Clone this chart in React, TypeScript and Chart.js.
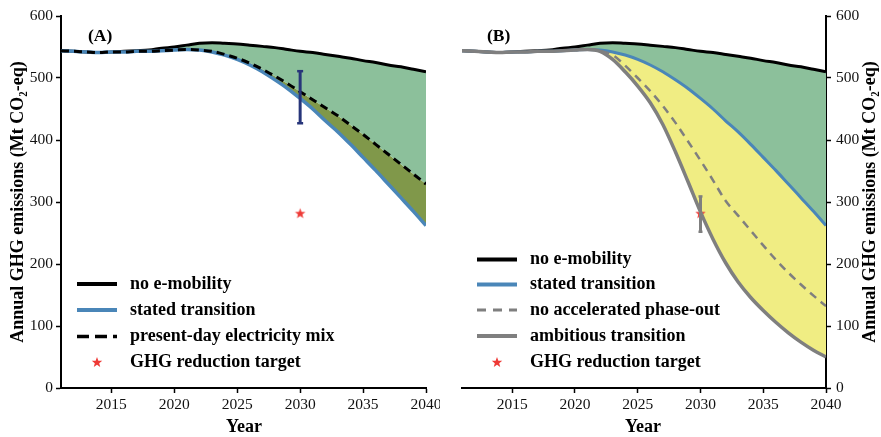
import React, { useEffect, useRef } from 'react';
import { Chart, registerables } from 'chart.js';

Chart.register(...registerables);

// ---------- data ----------
const years = [
  2011, 2012, 2013, 2014, 2015, 2016, 2017, 2018, 2019, 2020,
  2021, 2022, 2023, 2024, 2025, 2026, 2027, 2028, 2029, 2030,
  2031, 2032, 2033, 2034, 2035, 2036, 2037, 2038, 2039, 2040,
];
const noEMobility = [
  544, 543, 542, 541, 542, 543, 544, 545, 548, 550,
  553, 556, 557, 556, 555, 553, 551, 549, 546, 543,
  541, 538, 535, 532, 528, 525, 521, 518, 514, 510,
];
const statedTransition = [
  544, 543, 542, 541, 542, 542, 543, 543, 544, 545,
  546, 545, 542, 537, 530, 521, 510, 497, 483, 467,
  450, 431, 413, 393, 372, 351, 329, 307, 285, 262,
];
const presentDayMix = [
  544, 543, 542, 541, 542, 542, 543, 543, 544, 545,
  546, 545, 543, 538, 532, 524, 514, 503, 491, 478,
  465, 452, 439, 424, 409, 393, 377, 361, 345, 329,
];
const noAcceleratedPhaseOut = [
  544, 543, 542, 541, 542, 542, 543, 543, 544, 545,
  546, 544, 537, 520, 500, 479, 455, 428, 398, 367,
  335, 302, 278, 254, 230, 207, 186, 167, 149, 132,
];
const ambitiousTransition = [
  544, 543, 542, 541, 542, 542, 543, 543, 544, 545,
  546, 543, 530, 510, 487, 460, 425, 381, 333, 284,
  240, 202, 171, 146, 125, 106, 89, 74, 61, 50,
];
const xTickValues = [2015, 2020, 2025, 2030, 2035, 2040];
const targetYear = 2030;
const reductionTarget = 282;
const errorBarA = [427, 511];
const errorBarB = [252, 309];

const legendA = ['no e-mobility', 'stated transition', 'present-day electricity mix', 'GHG reduction target'];
const legendB = ['no e-mobility', 'stated transition', 'no accelerated phase-out', 'ambitious transition', 'GHG reduction target'];
const yTitle = 'Annual GHG emissions (Mt CO\u2082-eq)';
const xTitle = 'Year';

// ---------- style ----------
const SERIF = '"Liberation Serif", "Times New Roman", serif';
const GREEN = '#8cc09b';
const OLIVE = '#80984a';
const YELLOW = '#f0ed83';
const BLUE = '#4a86b8';
const GRAY = '#7f7f7f';
const NAVY = '#27357a';
const RED = '#ee3a36';

const pts = (vals: number[]) => vals.map((v, i) => ({ x: years[i], y: v }));

function starPath(ctx: CanvasRenderingContext2D, cx: number, cy: number, R: number) {
  const r = R * 0.42;
  ctx.beginPath();
  for (let i = 0; i < 10; i++) {
    const a = -Math.PI / 2 + (i * Math.PI) / 5;
    const rad = i % 2 === 0 ? R : r;
    const px = cx + rad * Math.cos(a);
    const py = cy + rad * Math.sin(a);
    if (i === 0) ctx.moveTo(px, py);
    else ctx.lineTo(px, py);
  }
  ctx.closePath();
}

function makeStar(R: number, color: string) {
  const s = Math.ceil(R * 2 + 2);
  const c = document.createElement('canvas');
  c.width = s;
  c.height = s;
  const ctx = c.getContext('2d')!;
  starPath(ctx, s / 2, s / 2 + 0.5, R);
  ctx.fillStyle = color;
  ctx.fill();
  return c;
}

type LegendEntry = { label: string; kind: 'line' | 'dash' | 'star'; color: string; width: number; dash?: number[] };

interface Overlay {
  panel: string;
  panelX: number;
  legendX: number;
  legendY: number[];
  legend: LegendEntry[];
  yTitleX: number;
  xTitleX: number;
}

function overlayPlugin(o: Overlay) {
  return {
    id: 'overlay' + o.panel,
    afterDraw(chart: Chart) {
      const ctx = chart.ctx;
      ctx.save();
      ctx.fillStyle = '#000';
      ctx.textBaseline = 'middle';
      ctx.font = `bold 17.5px ${SERIF}`;
      ctx.textAlign = 'left';
      ctx.fillText(o.panel, o.panelX, 36);

      // legend
      o.legend.forEach((e, i) => {
        const y = o.legendY[i];
        const x0 = o.legendX;
        if (e.kind === 'star') {
          starPath(ctx, x0 + 20, y, 5.5);
          ctx.fillStyle = e.color;
          ctx.fill();
        } else {
          ctx.beginPath();
          ctx.strokeStyle = e.color;
          ctx.lineWidth = e.width;
          ctx.setLineDash(e.dash || []);
          ctx.moveTo(x0, y);
          ctx.lineTo(x0 + 40, y);
          ctx.stroke();
          ctx.setLineDash([]);
        }
        ctx.fillStyle = '#000';
        ctx.font = `bold 18px ${SERIF}`;
        ctx.fillText(e.label, x0 + 53, y);
      });

      // y title
      ctx.save();
      ctx.translate(o.yTitleX, 202);
      ctx.rotate(-Math.PI / 2);
      ctx.textAlign = 'center';
      ctx.font = `bold 18px ${SERIF}`;
      ctx.fillText(yTitle, 0, 0);
      ctx.restore();

      // x title
      ctx.textAlign = 'center';
      ctx.font = `bold 18px ${SERIF}`;
      ctx.fillText(xTitle, o.xTitleX, 427);
      ctx.restore();
    },
  };
}

function axisOptions(side: 'left' | 'right') {
  const common = {
    border: { display: true, color: '#000', width: 2 },
    grid: { display: true, drawOnChartArea: false, drawTicks: true, tickLength: 5, tickWidth: 1.5, tickColor: '#000' },
  };
  return {
    x: {
      type: 'linear' as const,
      min: years[0],
      max: years[years.length - 1],
      ...common,
      ticks: { font: { family: SERIF, size: 15.5 }, color: '#111', padding: 3, maxRotation: 0, callback: (v: any) => String(v) },
      afterBuildTicks: (s: any) => {
        s.ticks = xTickValues.map((v) => ({ value: v }));
      },
      afterFit: (s: any) => {
        s.height = 49;
        s.paddingLeft = 0;
        s.paddingRight = 0;
      },
    },
    y: {
      type: 'linear' as const,
      position: side,
      min: 0,
      max: 600,
      ...common,
      ticks: { stepSize: 100, font: { family: SERIF, size: 15.5 }, color: '#111', padding: side === 'left' ? 3 : 5 },
      afterFit: (s: any) => {
        s.width = side === 'left' ? 61 : 55;
      },
    },
  };
}

const lineBase = { pointRadius: 0, cubicInterpolationMode: 'monotone' as const, borderCapStyle: 'butt' as const };

function PanelA() {
  const ref = useRef<HTMLCanvasElement>(null);
  useEffect(() => {
    const star = makeStar(5.5, RED);
    const chart = new Chart(ref.current!, {
      type: 'line',
      data: {
        datasets: [
          { ...lineBase, label: legendA[0], data: pts(noEMobility), borderColor: '#000', borderWidth: 3, fill: false, order: 4 },
          { ...lineBase, label: legendA[1], data: pts(statedTransition), borderColor: BLUE, borderWidth: 3.5, backgroundColor: OLIVE, fill: { target: 2 }, order: 3 },
          { ...lineBase, label: legendA[2], data: pts(presentDayMix), borderColor: '#000', borderWidth: 3, borderDash: [8, 5], backgroundColor: GREEN, fill: { target: 0 }, order: 2 },
          {
            label: 'error', data: [{ x: targetYear, y: errorBarA[0] }, { x: targetYear, y: errorBarA[1] }],
            borderColor: NAVY, borderWidth: 3, tension: 0, fill: false, pointStyle: 'line', pointRadius: 3, pointBorderWidth: 2.5, pointBorderColor: NAVY, order: 1,
          },
          {
            label: legendA[3], data: [{ x: targetYear, y: reductionTarget }], showLine: false, fill: false,
            pointStyle: star, pointRadius: 6, order: 0,
          },
        ],
      },
      options: {
        animation: false,
        responsive: true,
        maintainAspectRatio: false,
        layout: { padding: { top: 16, right: 14, left: 0, bottom: 0 } },
        plugins: { legend: { display: false }, tooltip: { enabled: false }, filler: { drawTime: 'beforeDatasetsDraw' } },
        scales: axisOptions('left') as any,
      },
      plugins: [
        overlayPlugin({
          panel: '(A)', panelX: 88, legendX: 77, legendY: [284, 310, 336.5, 362.5], yTitleX: 18, xTitleX: 244,
          legend: [
            { label: legendA[0], kind: 'line', color: '#000', width: 4 },
            { label: legendA[1], kind: 'line', color: BLUE, width: 4 },
            { label: legendA[2], kind: 'dash', color: '#000', width: 3.5, dash: [12, 6] },
            { label: legendA[3], kind: 'star', color: RED, width: 0 },
          ],
        }),
      ],
    });
    return () => chart.destroy();
  }, []);
  return (
    <div style={{ position: 'absolute', left: 0, top: 0, width: 440, height: 437 }}>
      <canvas ref={ref} />
    </div>
  );
}

function PanelB() {
  const ref = useRef<HTMLCanvasElement>(null);
  useEffect(() => {
    const star = makeStar(5.5, RED);
    const chart = new Chart(ref.current!, {
      type: 'line',
      data: {
        datasets: [
          { ...lineBase, label: legendB[0], data: pts(noEMobility), borderColor: '#000', borderWidth: 3, fill: false, order: 6 },
          { ...lineBase, label: legendB[1], data: pts(statedTransition), borderColor: BLUE, borderWidth: 3, backgroundColor: GREEN, fill: { target: 0 }, order: 5 },
          { ...lineBase, label: legendB[2], data: pts(noAcceleratedPhaseOut), borderColor: GRAY, borderWidth: 2.5, borderDash: [8, 6], fill: false, order: 4 },
          { ...lineBase, label: legendB[3], data: pts(ambitiousTransition), borderColor: GRAY, borderWidth: 3.5, backgroundColor: YELLOW, fill: { target: 1 }, order: 1 },
          {
            label: 'error', data: [{ x: targetYear, y: errorBarB[0] }, { x: targetYear, y: errorBarB[1] }],
            borderColor: GRAY, borderWidth: 3, tension: 0, fill: false, pointStyle: 'line', pointRadius: 2, pointBorderWidth: 2.5, pointBorderColor: GRAY, order: 2,
          },
          {
            label: legendB[4], data: [{ x: targetYear, y: reductionTarget }], showLine: false, fill: false,
            pointStyle: star, pointRadius: 6, order: 3,
          },
        ],
      },
      options: {
        animation: false,
        responsive: true,
        maintainAspectRatio: false,
        layout: { padding: { top: 16, right: 0, left: 22, bottom: 0 } },
        plugins: { legend: { display: false }, tooltip: { enabled: false }, filler: { drawTime: 'beforeDatasetsDraw' } },
        scales: axisOptions('right') as any,
      },
      plugins: [
        overlayPlugin({
          panel: '(B)', panelX: 47, legendX: 37, legendY: [259.5, 284.5, 310, 336, 362.5], yTitleX: 430, xTitleX: 203,
          legend: [
            { label: legendB[0], kind: 'line', color: '#000', width: 4 },
            { label: legendB[1], kind: 'line', color: BLUE, width: 4 },
            { label: legendB[2], kind: 'dash', color: GRAY, width: 3, dash: [9, 7] },
            { label: legendB[3], kind: 'line', color: GRAY, width: 4 },
            { label: legendB[4], kind: 'star', color: RED, width: 0 },
          ],
        }),
      ],
    });
    return () => chart.destroy();
  }, []);
  return (
    <div style={{ position: 'absolute', left: 440, top: 0, width: 441, height: 437 }}>
      <canvas ref={ref} />
    </div>
  );
}

export default function App() {
  return (
    <div style={{ position: 'absolute', left: 0, top: 0, width: 881, height: 437, background: '#fff', overflow: 'hidden' }}>
      <PanelA />
      <PanelB />
    </div>
  );
}
